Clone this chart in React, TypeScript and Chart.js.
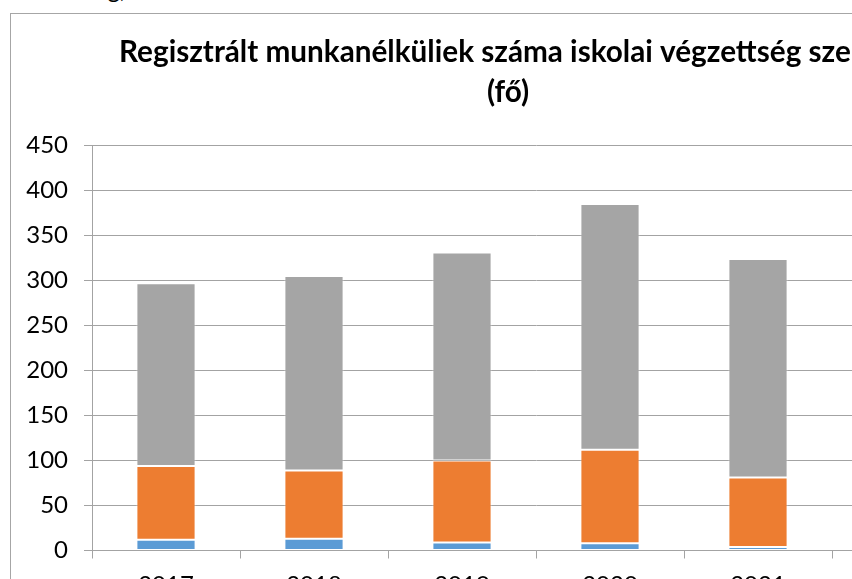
import React, { useEffect, useRef } from 'react';
import { Chart, registerables } from 'chart.js';

Chart.register(...registerables);

// ---- data ----
const categories = ['2017', '2018', '2019', '2020', '2021', ''];
const seriesNames = ['8 általánosnál kevesebb', '8 általános', '8 általánosnál magasabb'];
const lowestEdu = [12, 13, 9, 8, 4];
const primaryEdu = [82, 76, 91, 104, 77];
const higherEdu = [203, 216, 231, 273, 243];
const yMin = 0;
const yMax = 450;
const yStep = 50;
const titleLines = ['Regisztrált munkanélküliek száma iskolai végzettség szerint', '(fő)'];
const titleVisiblePart = 'Regisztrált munkanélküliek száma iskolai végzettség sze';

// ---- style ----
const FAMILY = "Lato, 'Open Sans', sans-serif";
const GRID = '#a3a3a3';
const COLORS = ['#5b9bd5', '#ed7d31', '#a5a5a5'];
const CANVAS_W = 994;
const CANVAS_H = 600;

export default function App() {
  const ref = useRef<HTMLCanvasElement>(null);

  useEffect(() => {
    const canvas = ref.current;
    if (!canvas) return;
    const m = document.createElement('canvas').getContext('2d')!;
    m.font = `bold 100px ${FAMILY}`;
    const pw = m.measureText(titleVisiblePart).width;
    const titleSize = (100 * 732) / pw;
    const padTop = 50 - 0.387 * titleSize - 20;
    const padBottom = 131.5 - padTop - 80;

    const values = [lowestEdu, primaryEdu, higherEdu];
    const chart = new Chart(canvas, {
      type: 'bar',
      data: {
        labels: categories,
        datasets: values.map((v, i) => ({
          label: seriesNames[i],
          data: v,
          backgroundColor: COLORS[i],
          borderColor: 'rgba(255,255,255,0.45)',
          borderWidth: 1,
          borderSkipped: false,
          categoryPercentage: 1,
          barPercentage: 0.4,
          yAxisID: 'y',
        })),
      },
      options: {
        responsive: false,
        animation: false,
        devicePixelRatio: 1,
        layout: { padding: 0 },
        plugins: {
          legend: { display: false },
          tooltip: { enabled: false },
          title: {
            display: true,
            text: titleLines,
            color: '#000',
            font: { family: FAMILY, size: titleSize, weight: 'bold', lineHeight: '40px' },
            padding: { top: padTop, bottom: padBottom },
          },
        },
        scales: {
          x: {
            stacked: true,
            grid: {
              offset: true,
              drawOnChartArea: false,
              drawTicks: true,
              tickLength: 8,
              color: GRID,
              lineWidth: 1,
            },
            border: { display: true, color: GRID, width: 1 },
            ticks: {
              font: { family: FAMILY, size: 24 },
              color: '#000',
              padding: 12,
              maxRotation: 0,
              autoSkip: false,
            },
            afterFit: (s: any) => {
              s.height = 63.5;
            },
          },
          y: {
            stacked: true,
            min: yMin,
            max: yMax,
            ticks: {
              stepSize: yStep,
              font: { family: FAMILY, size: 24 },
              color: '#000',
              padding: 16,
            },
            grid: { color: GRID, lineWidth: 1, tickLength: 8, drawTicks: true },
            border: { display: true, color: GRID, width: 1 },
            afterFit: (s: any) => {
              s.width = 81;
            },
          },
          rightSpace: {
            type: 'linear',
            position: 'right',
            display: true,
            min: 0,
            max: 1,
            grid: { display: false, drawTicks: false },
            border: { display: false },
            ticks: { display: false },
            afterFit: (s: any) => {
              s.width = 25;
            },
          },
        },
      },
    } as any);
    return () => chart.destroy();
  }, []);

  return (
    <div
      style={{
        position: 'fixed',
        left: 0,
        top: 0,
        width: 852,
        height: 579,
        overflow: 'hidden',
        background: '#fff',
      }}
    >
      <div
        style={{
          position: 'absolute',
          left: 94,
          top: -23,
          fontFamily: FAMILY,
          fontSize: 24,
          lineHeight: '24px',
          color: '#000',
          whiteSpace: 'nowrap',
        }}
      >
        ng,
      </div>
      <div
        style={{
          position: 'absolute',
          left: 10,
          top: 13,
          width: CANVAS_W,
          height: CANVAS_H,
          border: '1px solid #a6a6a6',
          background: '#fff',
        }}
      >
        <canvas
          ref={ref}
          width={CANVAS_W}
          height={CANVAS_H}
          style={{ display: 'block', width: CANVAS_W, height: CANVAS_H }}
        />
      </div>
    </div>
  );
}
